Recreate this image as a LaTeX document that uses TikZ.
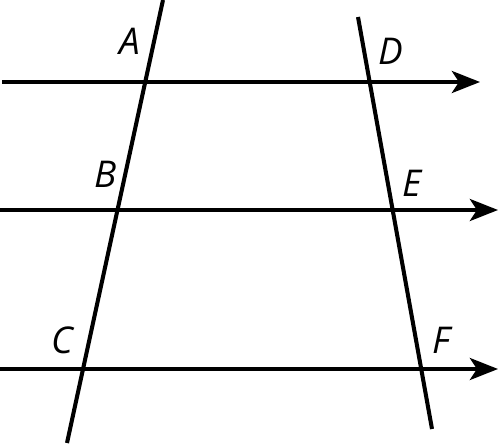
\documentclass[tikz,border=0pt]{standalone}
\usepackage{fontspec}
\setmainfont{Open Sans}
\usetikzlibrary{arrows.meta}

\begin{document}
\begin{tikzpicture}[
  x=0.02cm, y=-0.02cm,
  every node/.style={font=\fontsize{21}{21}\selectfont\itshape},
  transversal/.style={line width=2.3pt, draw=black},
  parallel/.style={
    line width=2.3pt,
    draw=black,
    -{Stealth[length=16pt,width=12.5pt,inset=4pt]}
  },
  pointlabel/.style={inner sep=0pt}
]
\useasboundingbox (0,0) rectangle (500,446);

% parallel lines
\coordinate (top west) at (2,82);
\coordinate (top east) at (480,82);
\coordinate (mid west) at (0,210);
\coordinate (mid east) at (498,210);
\coordinate (bot west) at (0,369);
\coordinate (bot east) at (498,369);

% transversals
\coordinate (left top) at (163,0);
\coordinate (left bot) at (67,443);
\coordinate (right top) at (358,17);
\coordinate (right bot) at (432,429);

\draw[parallel] (top west) -- (top east);
\draw[parallel] (mid west) -- (mid east);
\draw[parallel] (bot west) -- (bot east);
\draw[transversal] (left top) -- (left bot);
\draw[transversal] (right top) -- (right bot);

\node[pointlabel] (A) at (130,41) {A};
\node[pointlabel] (B) at (106,174) {B};
\node[pointlabel] (C) at (62,340) {C};
\node[pointlabel] (D) at (391,51) {D};
\node[pointlabel] (E) at (412,183) {E};
\node[pointlabel] (F) at (441,340) {F};
\end{tikzpicture}
\end{document}
